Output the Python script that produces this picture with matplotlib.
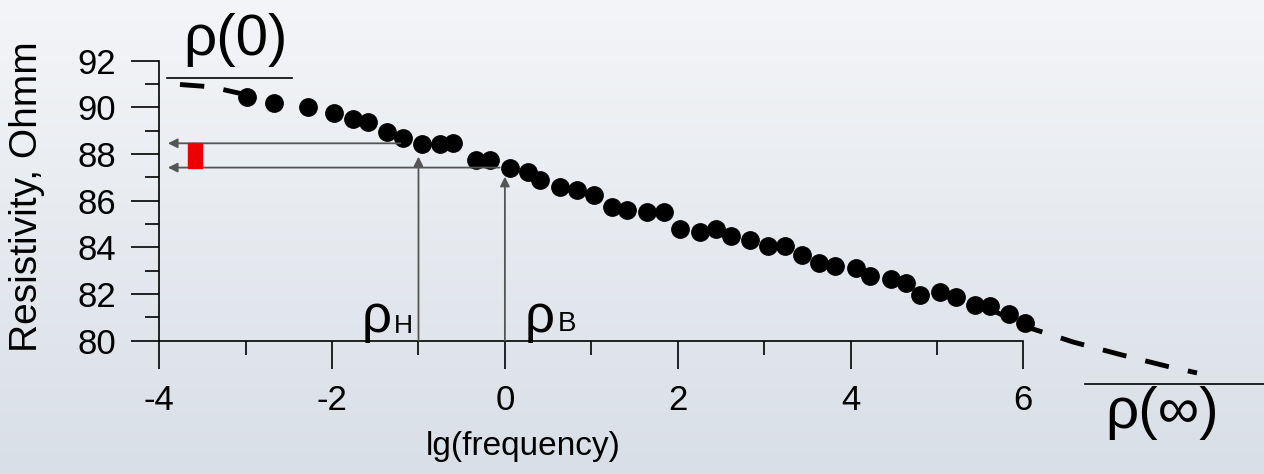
import matplotlib
matplotlib.use("Agg")
import matplotlib.pyplot as plt
import numpy as np

plt.rcParams['font.family'] = ['Liberation Sans', 'DejaVu Sans']
plt.rcParams['axes.unicode_minus'] = False

# measured points: lg(frequency) vs resistivity
lg_freq = [-2.99, -2.67, -2.28, -1.98, -1.76, -1.58, -1.37, -1.18, -0.96, -0.75,
           -0.60, -0.33, -0.17, 0.06, 0.27, 0.41, 0.64, 0.84, 1.03, 1.24,
           1.41, 1.64, 1.84, 2.03, 2.26, 2.44, 2.62, 2.84, 3.04, 3.24,
           3.44, 3.64, 3.82, 4.06, 4.23, 4.47, 4.64, 4.80, 5.04, 5.22,
           5.44, 5.61, 5.83, 6.02]
resistivity = [90.46, 90.18, 90.00, 89.77, 89.49, 89.39, 88.96, 88.70, 88.43, 88.45,
               88.46, 87.75, 87.75, 87.39, 87.24, 86.89, 86.60, 86.46, 86.25, 85.74,
               85.60, 85.53, 85.53, 84.77, 84.67, 84.77, 84.47, 84.32, 84.06, 84.06,
               83.67, 83.34, 83.20, 83.10, 82.77, 82.63, 82.46, 81.96, 82.10, 81.86,
               81.53, 81.49, 81.14, 80.77]

# extrapolated model curve (dashed), low and high frequency ends
fit_lo_x = [-3.76, -3.40, -3.03]
fit_lo_y = [90.98, 90.88, 90.57]
fit_hi_x = [5.50, 6.08, 6.58, 7.14, 7.70, 8.01]
fit_hi_y = [81.55, 80.54, 79.94, 79.39, 78.87, 78.62]

# rho_H / rho_B readout
f_low, f_high = -1.0, 0.0
rho_low, rho_high = 88.46, 87.42
tip_low, tip_high = 87.89, 87.03
hline_start = [-1.21, -0.06]

fig = plt.figure(figsize=(12.64, 4.74), dpi=100)

# background gradient
bg = fig.add_axes([0, 0, 1, 1], zorder=-10)
grad = np.linspace(0, 1, 256).reshape(-1, 1)
c_top = np.array([0.955, 0.96, 0.97])
c_bot = np.array([0.85, 0.875, 0.905])
img = c_top + (c_bot - c_top) * grad[:, :, None]
bg.imshow(img, aspect='auto', extent=[0, 1, 0, 1])
bg.axis('off')

ax = fig.add_axes([0.126, 0.2812, 0.6836, 0.5907])
ax.patch.set_alpha(0)
ax.set_xlim(-4, 6)
ax.set_ylim(80, 92)
for s in ['top', 'right']:
    ax.spines[s].set_visible(False)
for s in ['left', 'bottom']:
    ax.spines[s].set_linewidth(1.2)

ax.set_xticks(np.arange(-4, 7, 2))
ax.set_xticks(np.arange(-3, 6, 2), minor=True)
ax.set_yticks(np.arange(80, 93, 2))
ax.set_yticks(np.arange(81, 92, 2), minor=True)
ax.tick_params(which='major', length=20, width=1.2, labelsize=25, pad=11)
ax.tick_params(which='minor', length=10, width=1.2)

# dashed model curve
ax.plot(fit_lo_x, fit_lo_y, color='black', lw=3.5, dashes=(5, 4), clip_on=False, zorder=2)
ax.plot(fit_hi_x, fit_hi_y, color='black', lw=3.5, dashes=(5, 4), clip_on=False, zorder=2)

ax.plot(lg_freq, resistivity, 'o', color='black', ms=12.5, clip_on=False, zorder=3)

# arrows
grey = '#555555'
for x0, y0 in zip(hline_start, [rho_low, rho_high]):
    ax.annotate('', xy=(-3.9, y0), xytext=(x0, y0),
                arrowprops=dict(arrowstyle='-|>', color=grey, lw=1.3,
                                mutation_scale=14, shrinkA=0, shrinkB=0))
for x0, yt in zip([f_low, f_high], [tip_low, tip_high]):
    ax.annotate('', xy=(x0, yt), xytext=(x0, 80),
                arrowprops=dict(arrowstyle='-|>', color=grey, lw=1.3,
                                mutation_scale=14, shrinkA=0, shrinkB=0))
ax.add_patch(plt.Rectangle((-3.67, rho_high), 0.17, rho_low - rho_high,
                           color='#ee0000', zorder=4, clip_on=False))

fig.text(27 / 1264, 1 - 197 / 474, 'Resistivity, Ohmm', fontsize=28,
         rotation=90, ha='center', va='center')
fig.text(523 / 1264, 27 / 474, 'lg(frequency)', fontsize=24, ha='center', va='center')

# rho labels
fig.text(235 / 1264, 1 - 40 / 474, 'ρ(0)', fontsize=42, ha='center', va='center')
fig.add_artist(plt.Line2D([167 / 1264, 292 / 1264], [1 - 78 / 474] * 2, color='black', lw=1.2))
fig.text(1162 / 1264, 1 - 413 / 474, 'ρ(∞)', fontsize=42, ha='center', va='center')
fig.add_artist(plt.Line2D([1085 / 1264, 1.0], [1 - 384 / 474] * 2, color='black', lw=1.2))

fig.text(377 / 1264, 1 - 318 / 474, 'ρ', fontsize=38, ha='center', va='center')
fig.text(403 / 1264, 1 - 326 / 474, 'Н', fontsize=19, ha='center', va='center')
fig.text(540 / 1264, 1 - 318 / 474, 'ρ', fontsize=38, ha='center', va='center')
fig.text(567 / 1264, 1 - 324 / 474, 'В', fontsize=20, ha='center', va='center')

fig.savefig('out.png', dpi=100)
